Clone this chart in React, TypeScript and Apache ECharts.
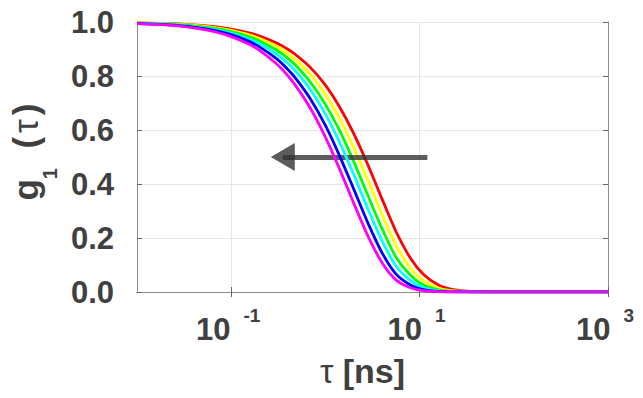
import React, { useEffect, useRef } from "react";
import * as echarts from "echarts";

const tau = [0.01, 0.02, 0.04, 0.07, 0.1, 0.15, 0.2, 0.3, 0.4, 0.5, 0.7, 1, 1.4, 2, 2.8, 4, 5.6, 8, 11, 16, 22, 32, 50, 100, 1000];

const red = [0.997, 0.995, 0.989, 0.982, 0.974, 0.961, 0.948, 0.923, 0.899, 0.875, 0.83, 0.766, 0.688, 0.587, 0.474, 0.344, 0.225, 0.125, 0.065, 0.025, 0.01, 0.003, 0.0005, 0, 0];
const yellow = [0.997, 0.994, 0.988, 0.978, 0.969, 0.954, 0.939, 0.911, 0.882, 0.855, 0.804, 0.732, 0.646, 0.535, 0.417, 0.287, 0.174, 0.088, 0.042, 0.014, 0.005, 0.0012, 0, 0, 0];
const green = [0.996, 0.993, 0.986, 0.975, 0.964, 0.947, 0.93, 0.897, 0.865, 0.834, 0.775, 0.695, 0.601, 0.483, 0.361, 0.234, 0.13, 0.062, 0.026, 0.008, 0.002, 0.0005, 0, 0, 0];
const cyan = [0.996, 0.992, 0.983, 0.971, 0.959, 0.939, 0.92, 0.882, 0.846, 0.812, 0.747, 0.659, 0.558, 0.435, 0.311, 0.189, 0.097, 0.042, 0.016, 0.004, 0.001, 0, 0, 0, 0];
const blue = [0.995, 0.99, 0.981, 0.967, 0.953, 0.93, 0.908, 0.865, 0.824, 0.785, 0.713, 0.617, 0.508, 0.381, 0.259, 0.145, 0.067, 0.026, 0.009, 0.002, 0.0005, 0, 0, 0, 0];
const magenta = [0.994, 0.989, 0.978, 0.962, 0.946, 0.92, 0.895, 0.846, 0.801, 0.757, 0.678, 0.574, 0.459, 0.329, 0.211, 0.108, 0.045, 0.016, 0.005, 0.001, 0, 0, 0, 0, 0];

const seriesList = [
  { name: "red", color: "#ff0000", values: red },
  { name: "yellow", color: "#ffff00", values: yellow },
  { name: "green", color: "#00ff00", values: green },
  { name: "cyan", color: "#00ffff", values: cyan },
  { name: "blue", color: "#0000ff", values: blue },
  { name: "magenta", color: "#ff00ff", values: magenta },
];

const xTicks = [0.1, 10, 1000];
const arrowStart = [12.1, 0.5];
const arrowEnd = [0.353, 0.5];

const FONT = "'Liberation Sans', Arial, Helvetica, sans-serif";
const TEXT = "#404040";

export default function App() {
  const ref = useRef<HTMLDivElement>(null);
  useEffect(() => {
    if (!ref.current) return;
    const chart = echarts.init(ref.current, undefined, { renderer: "svg" });
    const axisLineStyle = { color: "#8c8c8c", width: 1 };
    const tickStyle = { color: "#666666", width: 1 };
    const xBase = {
      type: "log",
      logBase: 10,
      min: 0.01,
      max: 1000,
      minorTick: { show: false },
      minorSplitLine: { show: false },
      axisLine: { show: true, lineStyle: axisLineStyle },
    };
    const yBase = {
      type: "value",
      min: 0,
      max: 1,
      interval: 0.2,
      axisLine: { show: true, lineStyle: axisLineStyle },
    };
    const option: any = {
      animation: false,
      backgroundColor: "#ffffff",
      grid: { left: 136, right: 31, top: 22, bottom: 106 },
      xAxis: [
        {
          ...xBase,
          position: "bottom",
          axisTick: { show: true, inside: true, length: 5, customValues: xTicks, lineStyle: tickStyle },
          splitLine: { show: true, lineStyle: { color: "#e6e6e6", width: 1 } },
          axisLabel: {
            customValues: xTicks,
            margin: 14,
            formatter: (v: number) => `{b|10}{s|${Math.round(Math.log10(v))}}`,
            rich: {
              b: { fontSize: 31, fontWeight: "bold", fontFamily: FONT, color: TEXT, lineHeight: 31, padding: [8, 0, 0, 0], verticalAlign: "top" },
              s: { fontSize: 19, fontWeight: "bold", fontFamily: FONT, color: TEXT, lineHeight: 19, padding: [0, 6, 0, 13], verticalAlign: "top" },
            },
          },
          name: "{t|τ}{b| [ns]}",
          nameLocation: "middle",
          nameGap: 62,
          nameTextStyle: {
            padding: [0, 20, 0, 0],
            rich: {
              t: { fontSize: 34, fontWeight: "normal", fontFamily: FONT, color: TEXT, lineHeight: 34 },
              b: { fontSize: 34, fontWeight: "bold", fontFamily: FONT, color: TEXT, lineHeight: 34 },
            },
          },
        },
        {
          ...xBase,
          position: "top",
          axisTick: { show: true, inside: true, length: 5, customValues: xTicks, lineStyle: tickStyle },
          axisLabel: { show: false },
          splitLine: { show: false },
        },
      ],
      yAxis: [
        {
          ...yBase,
          position: "left",
          axisTick: { show: true, inside: true, length: 5, lineStyle: tickStyle },
          splitLine: { show: true, lineStyle: { color: "#e6e6e6", width: 1 } },
          axisLabel: {
            margin: 23,
            fontSize: 31,
            fontWeight: "bold",
            fontFamily: FONT,
            color: TEXT,
            formatter: (v: number) => v.toFixed(1),
          },
          name: "{g|g}{sub|1}{g|  (}{t|τ}{g|)}",
          nameLocation: "middle",
          nameRotate: 90,
          nameGap: 76,
          nameTextStyle: {
            padding: [0, 0, 0, 10],
            rich: {
              g: { fontSize: 35, fontWeight: "bold", fontFamily: FONT, color: TEXT, lineHeight: 40, verticalAlign: "top" },
              sub: { fontSize: 20, fontWeight: "bold", fontFamily: FONT, color: TEXT, lineHeight: 20, verticalAlign: "top", padding: [32, 0, 0, 0] },
              t: { fontSize: 35, fontWeight: "normal", fontFamily: FONT, color: TEXT, lineHeight: 40, verticalAlign: "top", padding: [0, 4, 0, 4] },
            },
          },
        },
        {
          ...yBase,
          position: "right",
          axisTick: { show: true, inside: true, length: 5, lineStyle: tickStyle },
          axisLabel: { show: false },
          splitLine: { show: false },
        },
      ],
      series: [
        ...seriesList.map((s, i) => ({
          type: "line",
          name: s.name,
          xAxisIndex: 0,
          yAxisIndex: 0,
          data: tau.map((t, k) => [t, s.values[k]]),
          showSymbol: false,
          symbol: "none",
          smooth: 0.25,
          lineStyle: { color: s.color, width: 2.8 },
          itemStyle: { color: s.color },
          z: 2 + i,
        })),
        {
          type: "line",
          name: "arrow",
          xAxisIndex: 0,
          yAxisIndex: 0,
          data: [],
          z: 20,
          markLine: {
            silent: true,
            symbol: ["none", "triangle"],
            symbolSize: [28, 24],
            label: { show: false },
            lineStyle: { color: "#333333", width: 5, type: "solid", opacity: 0.8 },
            itemStyle: { color: "#333333", opacity: 0.8 },
            data: [[{ coord: arrowStart }, { coord: arrowEnd }]],
          },
        },
      ],
    };
    chart.setOption(option);
    return () => chart.dispose();
  }, []);
  return <div ref={ref} style={{ position: "absolute", left: 0, top: 0, width: 643, height: 398 }} />;
}
